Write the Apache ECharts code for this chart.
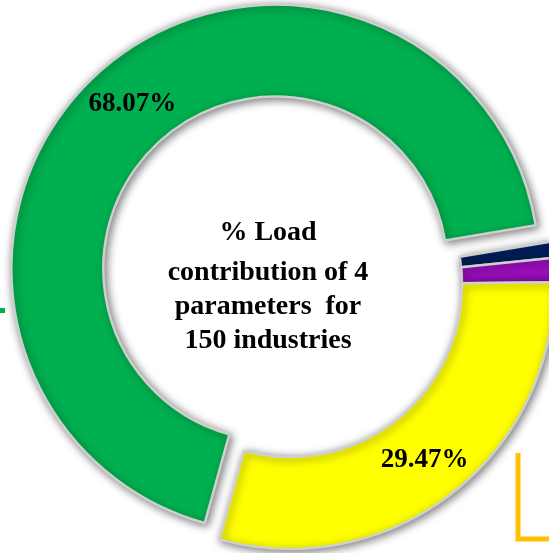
<!DOCTYPE html>
<html>
<head>
<meta charset="utf-8">
<script src="https://cdn.jsdelivr.net/npm/echarts@6/dist/echarts.min.js"></script>
<style>
  html, body { margin: 0; padding: 0; background: #ffffff; }
  #chart { width: 549px; height: 553px; }
</style>
</head>
<body>
<div id="chart"></div>
<script>
// Share of the pollution load carried by each of the four parameters
const parameters = ['Parameter A', 'Parameter B', 'Parameter C', 'Parameter D'];
const loadShare = [68.07, 0.99, 1.47, 29.47];
const sliceColors = ['#00B050', '#002060', '#9A0EBA', '#FFFF00'];
const shownLabels = [true, false, false, true];
const centreLines = ['% Load', 'contribution of 4', 'parameters  for', '150 industries'];

const serif = '"Liberation Serif", "Times New Roman", serif';

const pieData = parameters.map((name, i) => ({
  name: name,
  value: loadShare[i],
  selected: i === 0,
  itemStyle: { color: sliceColors[i] },
  label: {
    show: shownLabels[i],
    padding: i === 0 ? [0, 0, 0, 10] : [4, 0, 0, 0]
  }
}));

const chart = echarts.init(document.getElementById('chart'), null, { renderer: 'canvas' });

chart.setOption({
  animation: false,
  backgroundColor: '#ffffff',
  title: {
    left: 263,
    top: 205,
    textAlign: 'center',
    text: '{a|' + centreLines[0] + '}\n' + centreLines.slice(1).map(t => '{b|' + t + '}').join('\n'),
    textStyle: {
      rich: {
        a: { fontFamily: serif, fontWeight: 'bold', fontSize: 28, color: '#000', lineHeight: 46 },
        b: { fontFamily: serif, fontWeight: 'bold', fontSize: 28, color: '#000', lineHeight: 34 }
      }
    }
  },
  series: [{
    type: 'pie',
    center: [290, 285],
    radius: [172, 264],
    startAngle: 254.5,
    clockwise: true,
    selectedMode: 'single',
    selectedOffset: 22,
    avoidLabelOverlap: false,
    silent: true,
    itemStyle: {
      borderColor: '#cfcfcf',
      borderWidth: 2.5,
      shadowBlur: 9,
      shadowColor: 'rgba(0,0,0,0.5)',
      shadowOffsetX: 2,
      shadowOffsetY: 2
    },
    label: {
      position: 'inside',
      formatter: p => p.value.toFixed(2) + '%',
      fontFamily: serif,
      fontWeight: 'bold',
      fontSize: 27,
      color: '#000000'
    },
    labelLine: { show: false },
    select: { itemStyle: { borderColor: '#cfcfcf', borderWidth: 2.5 } },
    data: pieData
  }],
  graphic: [
    // connector fragments at the frame edges
    { type: 'rect', shape: { x: 0, y: 308, width: 5, height: 5 }, style: { fill: '#00B050' } },
    { type: 'polyline', shape: { points: [[518, 453], [518, 539], [549, 539]] },
      style: { stroke: '#FFC000', lineWidth: 5, fill: null } }
  ]
});
</script>
</body>
</html>
